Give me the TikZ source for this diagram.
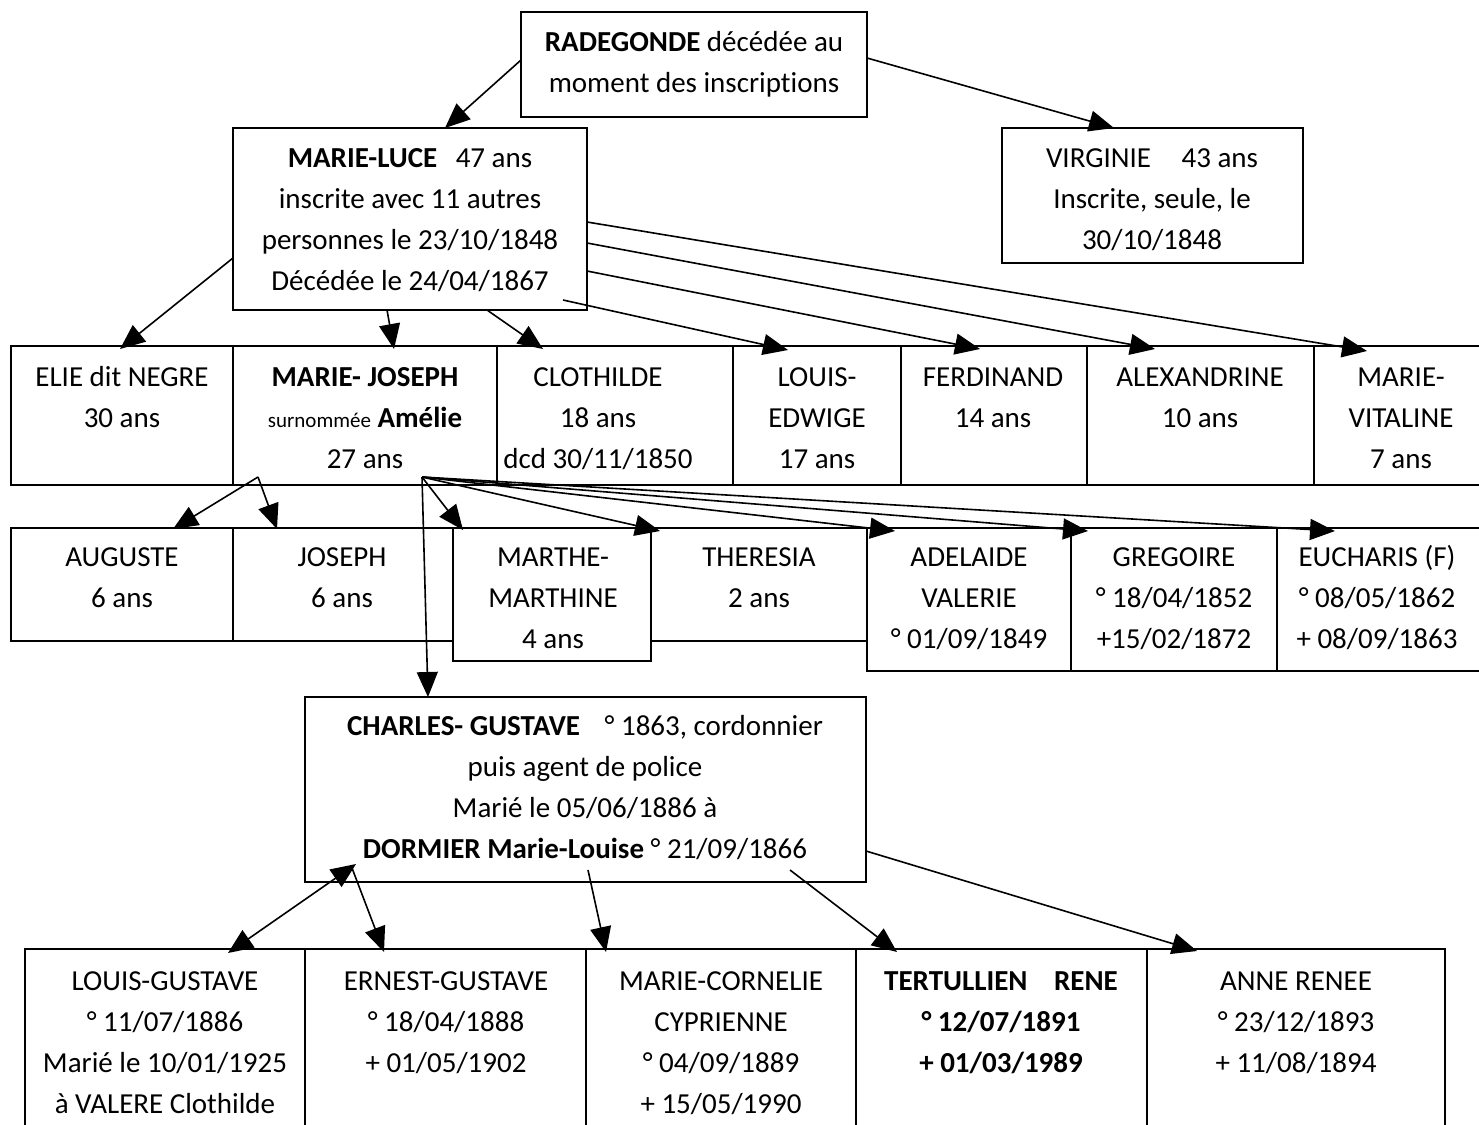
\documentclass[tikz,border=0pt]{standalone}
\usepackage{fontspec}
\setmainfont{Carlito}[Ligatures=NoCommon]
\usetikzlibrary{arrows.meta,calc}
\tikzset{
  box/.style={draw, line width=1.7pt, anchor=north west, inner sep=0pt, outer sep=0pt},
  lbl/.style={anchor=north, inner sep=0pt, align=center, font=\fontsize{29}{41}\selectfont},
  arr/.style={line width=1.6pt, -{Triangle[length=25pt,width=21pt]}},
  darr/.style={line width=1.6pt, {Triangle[length=25pt,width=21pt]}-{Triangle[length=25pt,width=21pt]}},
}
\newcommand{\mkbox}[5]{\node[box, minimum width=#4pt-#2pt, minimum height=#5pt-#3pt] (#1) at (#2,#3) {};}
\begin{document}
\begin{tikzpicture}[x=1pt,y=-1pt]
\useasboundingbox (0,0) rectangle (1479,1124);
\fill[white] (0,0) rectangle (1479,1124);
% boxes
\mkbox{rad}{521}{12}{867}{117}
\mkbox{luce}{233}{128}{587}{310}
\mkbox{virg}{1002}{128}{1303}{263}
\mkbox{elie}{11}{346}{233}{485}
\mkbox{mj}{233}{346}{497}{485}
\mkbox{clo}{497}{346}{733}{485}
\mkbox{le}{733}{346}{901}{485}
\mkbox{ferd}{901}{346}{1087}{485}
\mkbox{alex}{1087}{346}{1314}{485}
\mkbox{mv}{1314}{346}{1492}{485}
\mkbox{aug}{11}{528}{233}{641}
\mkbox{jos}{233}{528}{453}{641}
\mkbox{mar}{453}{528}{651}{661}
\mkbox{ther}{651}{528}{867}{641}
\mkbox{ade}{867}{528}{1071}{671}
\mkbox{gre}{1071}{528}{1277}{671}
\mkbox{euc}{1277}{528}{1492}{671}
\mkbox{cg}{305}{697}{866}{882}
\mkbox{lg}{25}{949}{305}{1132}
\mkbox{eg}{305}{949}{586}{1132}
\mkbox{mc}{586}{949}{856}{1132}
\mkbox{tr}{856}{949}{1147}{1132}
\mkbox{ar}{1147}{949}{1445}{1132}
% labels
\node[lbl] (rad-t) at (694,22.3) {\strut\textbf{RADEGONDE} décédée au\\moment des inscriptions};
\node[lbl] (luce-t) at (410,138.3) {\strut\textbf{MARIE-LUCE}\hspace{12pt} 47 ans\\inscrite avec 11 autres\\personnes le 23/10/1848\\Décédée le 24/04/1867};
\node[lbl] (virg-t) at (1152,138.3) {\strut VIRGINIE\hspace{24pt} 43 ans\\Inscrite, seule, le\\30/10/1848};
\node[lbl] (elie-t) at (122,357.3) {\strut ELIE dit NEGRE\\30 ans};
\node[lbl] (mj-t) at (365,357.3) {\strut\textbf{MARIE- JOSEPH}\\{\fontsize{21}{41}\selectfont surnommée} \textbf{Amélie}\\27 ans};
\node[lbl] (clo-t) at (598,357.3) {\strut CLOTHILDE\\18 ans\\dcd 30/11/1850};
\node[lbl] (le-t) at (817,357.3) {\strut LOUIS-\\EDWIGE\\17 ans};
\node[lbl] (ferd-t) at (993,357.3) {\strut FERDINAND\\14 ans};
\node[lbl] (alex-t) at (1200,357.3) {\strut ALEXANDRINE\\10 ans};
\node[lbl] (mv-t) at (1401,357.3) {\strut MARIE-\\VITALINE\\7 ans};
\node[lbl] (aug-t) at (122,537.3) {\strut AUGUSTE\\6 ans};
\node[lbl] (jos-t) at (342,537.3) {\strut JOSEPH\\6 ans};
\node[lbl] (mar-t) at (553,537.3) {\strut MARTHE-\\MARTHINE\\4 ans};
\node[lbl] (ther-t) at (759,537.3) {\strut THERESIA\\2 ans};
\node[lbl] (ade-t) at (969,537.3) {\strut ADELAIDE\\VALERIE\\° 01/09/1849};
\node[lbl] (gre-t) at (1174,537.3) {\strut GREGOIRE\\° 18/04/1852\\+15/02/1872};
\node[lbl] (euc-t) at (1377,537.3) {\strut EUCHARIS (F)\\° 08/05/1862\\+ 08/09/1863};
\node[lbl] (cg-t) at (585,706.3) {\strut\textbf{CHARLES- GUSTAVE}\hspace{18pt} ° 1863, cordonnier\\puis agent de police\\Marié le 05/06/1886 à\\\textbf{DORMIER Marie-Louise} ° 21/09/1866};
\node[lbl] (lg-t) at (165,961.3) {\strut LOUIS-GUSTAVE\\° 11/07/1886\\Marié le 10/01/1925\\à VALERE Clothilde};
\node[lbl] (eg-t) at (446,961.3) {\strut ERNEST-GUSTAVE\\° 18/04/1888\\+ 01/05/1902};
\node[lbl] (mc-t) at (721,961.3) {\strut MARIE-CORNELIE\\CYPRIENNE\\° 04/09/1889\\+ 15/05/1990};
\node[lbl] (tr-t) at (1001,961.3) {\strut\textbf{TERTULLIEN\hspace{20pt} RENE}\\\textbf{° 12/07/1891}\\\textbf{+ 01/03/1989}};
\node[lbl] (ar-t) at (1296,961.3) {\strut ANNE RENEE\\° 23/12/1893\\+ 11/08/1894};
% connectors
\draw[arr] ($(rad.north west)+(0,48)$) -- ($(luce.north west)+(212,0)$);
\draw[arr] ($(rad.north east)+(0,46)$) -- ($(virg.north west)+(112,0)$);
\draw[arr] ($(luce.north west)+(0,130)$) -- ($(elie.north west)+(109,3)$);
\draw[arr] ($(luce.south west)+(154,0)$) -- ($(mj.north west)+(161,3)$);
\draw[arr] ($(luce.south west)+(254,0)$) -- ($(clo.north west)+(46,3)$);
\draw[arr] ($(luce.south west)+(330,-10)$) -- ($(le.north west)+(55,4)$);
\draw[arr] ($(luce.north east)+(0,143)$) -- ($(ferd.north west)+(79,3)$);
\draw[arr] ($(luce.north east)+(0,115)$) -- ($(alex.north west)+(68,3)$);
\draw[arr] ($(luce.north east)+(0,94)$) -- ($(mv.north west)+(53,5)$);
\coordinate (mjA) at ($(mj.south west)+(25,-8)$);
\coordinate (mjB) at ($(mj.south west)+(189,-8)$);
\draw[arr] (mjA) -- ($(aug.north west)+(162,1)$);
\draw[arr] (mjA) -- ($(jos.north west)+(44,1)$);
\draw[arr] (mjB) -- ($(cg.north west)+(123,0)$);
\draw[arr] (mjB) -- ($(mar.north west)+(10,2)$);
\draw[arr] (mjB) -- ($(ther.north west)+(9,3)$);
\draw[arr] (mjB) -- ($(ade.north west)+(28,3)$);
\draw[arr] (mjB) -- ($(gre.north west)+(17,3)$);
\draw[arr] (mjB) -- ($(euc.north west)+(58,3)$);
\draw[darr] ($(cg.south west)+(51,-18)$) -- ($(lg.north west)+(203,4)$);
\draw[arr] ($(cg.south west)+(47,-14)$) -- ($(eg.north west)+(79,3)$);
\draw[arr] ($(cg.south west)+(283,-12)$) -- ($(mc.north west)+(20,3)$);
\draw[arr] ($(cg.south west)+(485,-12)$) -- ($(tr.north west)+(41,3)$);
\draw[arr] ($(cg.north east)+(0,154)$) -- ($(ar.north west)+(50,2)$);
\end{tikzpicture}
\end{document}
